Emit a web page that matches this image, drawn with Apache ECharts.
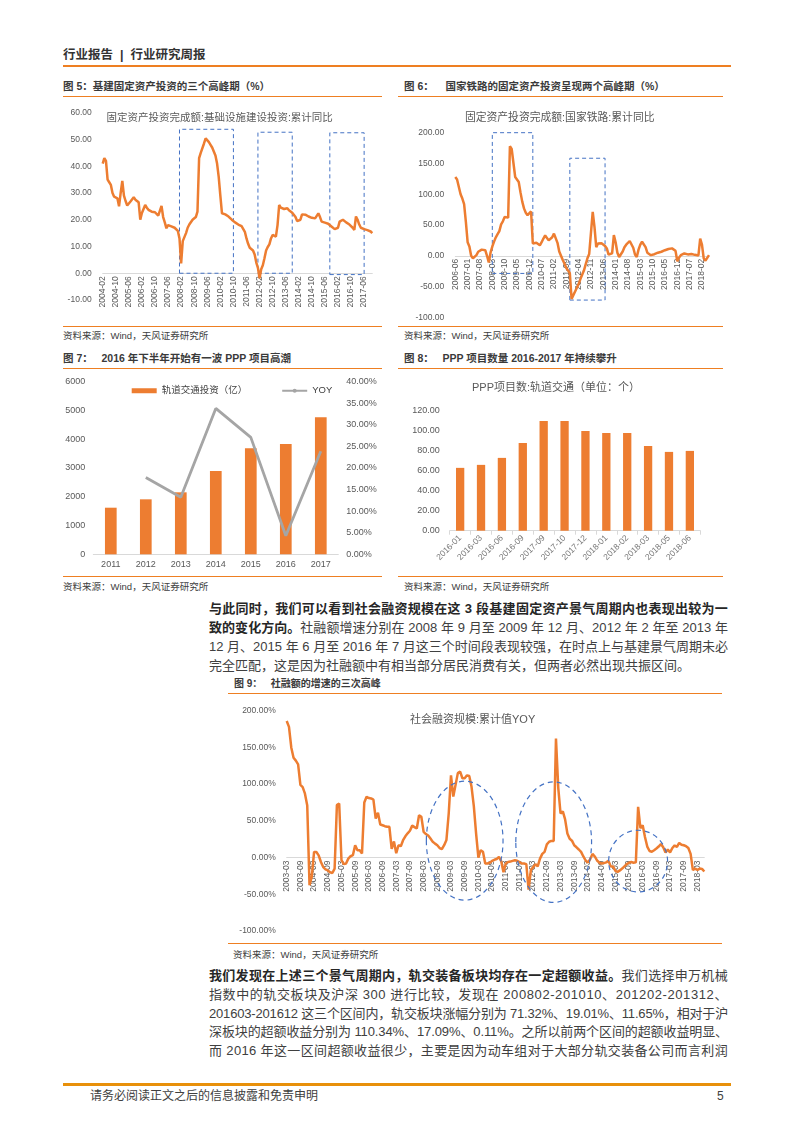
<!DOCTYPE html>
<html><head><meta charset="utf-8">
<script src="https://cdn.jsdelivr.net/npm/echarts@6/dist/echarts.min.js"></script>
<style>
body{margin:0;background:#fff;width:793px;height:1122px;position:relative;overflow:hidden;font-family:"Liberation Sans","Noto Sans CJK SC",sans-serif;}
.a{position:absolute;white-space:nowrap;}
.hd{font-weight:bold;color:#3a3a3a;font-size:10.5px;line-height:14px;}
.rule{position:absolute;height:1.4px;background:#EE7F22;}
.src{font-size:9.5px;color:#404040;line-height:12px;}
.ln{position:absolute;left:209px;width:519px;height:19px;line-height:19px;font-size:13px;color:#404040;white-space:nowrap;}
.ln b{color:#262626;}
.chart{position:absolute;}
</style></head><body>

<div class="a" style="left:63px;top:47px;font-size:12.5px;font-weight:bold;color:#333;line-height:16px;">行业报告&nbsp; | &nbsp;行业研究周报</div>
<div class="rule" style="left:63px;top:65px;width:668px;height:2px;"></div>

<div class="a hd" style="left:63px;top:79px;">图 5：基建固定资产投资的三个高峰期（%）</div>
<div class="rule" style="left:63px;top:95.5px;width:319px;"></div>
<div class="a hd" style="left:404px;top:79px;">图 6：&nbsp;&nbsp;&nbsp; 国家铁路的固定资产投资呈现两个高峰期（%）</div>
<div class="rule" style="left:398px;top:95.5px;width:325px;"></div>

<div id="c5" class="chart" style="left:60px;top:100px;width:330px;height:225px;"></div>
<div id="c6" class="chart" style="left:398px;top:100px;width:330px;height:225px;"></div>

<div class="rule" style="left:63px;top:325.5px;width:319px;"></div>
<div class="rule" style="left:398px;top:325.5px;width:325px;"></div>
<div class="a src" style="left:63px;top:330px;">资料来源：Wind，天风证券研究所</div>
<div class="a src" style="left:404px;top:330px;">资料来源：Wind，天风证券研究所</div>

<div class="a hd" style="left:63px;top:351px;">图 7：&nbsp;&nbsp; 2016 年下半年开始有一波 PPP 项目高潮</div>
<div class="rule" style="left:63px;top:367.5px;width:319px;"></div>
<div class="a hd" style="left:404px;top:351px;">图 8：&nbsp;&nbsp; PPP 项目数量 2016-2017 年持续攀升</div>
<div class="rule" style="left:398px;top:367.5px;width:325px;"></div>

<div id="c7" class="chart" style="left:60px;top:370px;width:330px;height:205px;"></div>
<div id="c8" class="chart" style="left:398px;top:370px;width:330px;height:205px;"></div>

<div class="rule" style="left:63px;top:576px;width:319px;"></div>
<div class="rule" style="left:398px;top:576px;width:325px;"></div>
<div class="a src" style="left:63px;top:581px;">资料来源：Wind，天风证券研究所</div>
<div class="a src" style="left:404px;top:581px;">资料来源：Wind，天风证券研究所</div>

<div class="ln j" style="top:599px;"><span><b>与此同时，我们可以看到社会融资规模在这 3 段基建固定资产景气周期内也表现出较为一</b></span></div>
<div class="ln j" style="top:618px;"><span><b>致的变化方向。</b>社融额增速分别在 2008 年 9 月至 2009 年 12 月、2012 年 2 年至 2013 年</span></div>
<div class="ln j" style="top:637px;"><span>12 月、2015 年 6 月至 2016 年 7 月这三个时间段表现较强，在时点上与基建景气周期未必</span></div>
<div class="ln" style="top:656px;"><span>完全匹配，这是因为社融额中有相当部分居民消费有关，但两者必然出现共振区间。</span></div>

<div class="a hd" style="left:234px;top:676.5px;font-size:10px;">图 9：&nbsp;&nbsp; 社融额的增速的三次高峰</div>
<div class="rule" style="left:228px;top:692.5px;width:494px;"></div>
<div id="c9" class="chart" style="left:228px;top:696px;width:494px;height:245px;"></div>
<div class="rule" style="left:228px;top:942.5px;width:494px;"></div>
<div class="a src" style="left:233px;top:949px;">资料来源：Wind，天风证券研究所</div>

<div class="ln j" style="top:966px;"><span><b>我们发现在上述三个景气周期内，轨交装备板块均存在一定超额收益。</b>我们选择申万机械</span></div>
<div class="ln j" style="top:985px;"><span>指数中的轨交板块及沪深 300 进行比较，发现在 200802-201010、201202-201312、</span></div>
<div class="ln j" style="top:1003.5px;"><span>201603-201612 这三个区间内，轨交板块涨幅分别为 71.32%、19.01%、11.65%，相对于沪</span></div>
<div class="ln j" style="top:1022px;"><span>深板块的超额收益分别为 110.34%、17.09%、0.11%。之所以前两个区间的超额收益明显、</span></div>
<div class="ln j" style="top:1040.5px;"><span>而 2016 年这一区间超额收益很少，主要是因为动车组对于大部分轨交装备公司而言利润</span></div>

<div class="rule" style="left:63px;top:1083px;width:668px;height:2.5px;background:#E8900A;"></div>
<div class="a" style="left:90px;top:1088px;font-size:12px;color:#404040;line-height:16px;">请务必阅读正文之后的信息披露和免责申明</div>
<div class="a" style="left:717px;top:1088px;font-size:12px;color:#404040;line-height:16px;">5</div>

<script>
// ---------- data ----------
// Fig.5 infrastructure FAI cumulative YoY (%), monthly from 2004-02
const infra5 = [
41,43,42,35,34,33,30,28.6,28.5,28,
25,30,34.5,29,27,25.3,26,26.8,27.5,28.4,
27.5,27,26.5,20,22.5,24,25.5,24.5,23.7,23.5,
23,23,22.8,22.4,21.5,21,25.2,21,19,16.8,
18,17.8,17.5,17.4,17,16.4,15.8,13,3.7,12,
13.5,15,17,18.2,18.7,20,20.5,21,23,43,
45,45.5,48.5,50.4,50,49,48,47,45.5,44,
41,36,29,22.4,22.4,22,21.8,21.2,20.6,20,
19.4,19,18.7,18.2,17.5,17.6,17.7,15.5,13,11,
9.5,9,8.5,7,4,2,-1.9,1.5,3,5.6,
8.5,9.8,10.8,13,14.3,14,13.7,18,25.5,24.5,
24.3,24,24,24.3,23.5,23,22.6,22.4,21,19.5,
19.3,20,22,22.4,21.9,21.5,21.2,21,20.7,20.5,
20.5,21,22.4,21,19.3,19,18.9,18.8,18.5,18,
17.5,17,16.5,15.8,17,19.3,19.8,20,20.2,19,
18.5,18.2,18,17,16.2,21.2,20,18.2,17,16.8,
16.5,16.2,16.1,16,15.6,15];
const boxes5 = [['2008-01',0,'2010-10',53.8],['2012-01',0,'2013-10',52.7],['2015-09',-0.5,'2017-06',52.5]];
const title5 = '固定资产投资完成额:基础设施建设投资:累计同比';

// Fig.6 national railway FAI cumulative YoY (%), monthly from 2006-06
const rail6 = [
128,124,124.5,100,93,84,55,22,15,0,
-4,-1.5,1,6.5,6.5,10,12,9,0,-11,
5,15,23,30,35,40,51,56,63,63,
62,178,173.5,172,128,125,120,103,88,77,
70,66,67,72,20,23,21,19,17,22,
28,33,34,25,22,30,36,35,21,7,
0,-7,-13,-20,-24,-28,-70,-64,-58,-52,
-46,-38,-31,-24,-14,-4,3,5.5,71.5,47,
14,20,22,20.5,19,16,12,2,1,4,
33.6,22,5,-2,-4,7,14,18,21,24,
23.5,13,2,-2,10,18,22.8,20.5,14,5,
2,1,1.5,2.5,3.5,5,5.5,6.5,8,9,
10,11,11.5,12,13.5,8,-9,-3,1,3,
3.8,3,2.2,3.5,3,2,1.5,1,0.5,28,
18,-4,-8,-7,1];
const boxes6 = [['2008-03',-28.7,'2010-02',203],['2011-11',-72,'2013-07',158.5]];
const title6 = '固定资产投资完成额:国家铁路:累计同比';

// Fig.7 rail transit investment (100m yuan) & YoY (%)
const years7 = ['2011','2012','2013','2014','2015','2016','2017'];
const invest7 = [1620,1911,2155,2896,3683,3834,4761];
const yoy7 = [null,17.8,13.2,33.8,27.1,4.3,23.9];
const legend7 = ['轨道交通投资（亿）','YOY'];

// Fig.8 PPP projects: rail transit (count)
const months8 = ['2016-01','2016-03','2016-06','2016-09','2017-09','2017-10','2017-12','2018-01','2018-02','2018-03','2018-05','2018-06'];
const ppp8 = [63,66,73,88,110,110,100,98,98,85,79,80];
const title8 = 'PPP项目数:轨道交通（单位：个）';

// Fig.9 social financing cumulative YoY (%), monthly from 2003-03
const tsf9 = [
186,178,150,136,132,127,99,96,87,71,
-37.7,-26,7.7,7.5,3,-6,-13,-16,-17.5,-20,
-21,-15,71.4,73.6,-3.6,-9,-8,-1.4,1.8,3.2,
16.8,10,10,5.5,75,82.7,81,80.5,79,53,
61,45,44,42.7,42,41.8,12,22,6,16.8,
15.5,23.6,29,33,36.5,43.5,41.5,39.5,57.7,55.5,
35,32,30,26,21.4,19,16.8,13,11.5,16.8,
24,60,112,83,99,115,117,108,108,112,
111,96.4,70,32.7,0,10,8,-8,-8,-7,
-4.5,-3,-2,1,-5,-20,-8,-6,-5.5,-4.5,
-3.6,-4.3,-6,-8,-8,-9,-43.6,-17,-13,-9,
-12,-1.4,5,7.7,18,21.5,22.7,22.7,162,95,
60,63,52,32.7,25.5,23,16.8,14,11,7.7,
1.5,-4,-7,-2,5,1.5,-4,-7,-8,-7.5,
-6.5,-4.5,-12,-12,-18,-19.5,-17.5,-15,-12,-9,
-7,-6,-7,-6.5,69,40,44,28,15,9,
8,10,12.3,15,18.5,14,7,11,7,13,
16.5,14.5,20,17.5,16.8,15.5,13,5,-17,-15,
-17,-15,-15.5,-19];
// dashed ellipses: centre month index, centre value, radius in months, radius in %
const ellipses9 = [{cx:78,cy:23,rx:16.8,ry:81},{cx:116.8,cy:21,rx:16.6,ry:82},{cx:153.9,cy:-4.8,rx:12.9,ry:42}];
const title9 = '社会融资规模:累计值YOY';

// ---------- helpers ----------
const months = (y, m, n) => Array.from({length:n}, (_, i) => { const k = m - 1 + i; return (y + Math.floor(k / 12)) + '-' + String(k % 12 + 1).padStart(2, '0'); });
const months5 = months(2004, 2, infra5.length);
const months6 = months(2006, 6, rail6.length);
const months9 = months(2003, 3, tsf9.length);

const FF = '"Liberation Sans","Noto Sans CJK SC",sans-serif';
const ORANGE = '#ED7D31', GRAY = '#A5A5A5', BLUE = '#4472C4', LBL = '#595959', AX = '#D9D9D9';
const lbl = (extra) => Object.assign({color: LBL, fontSize: 8.5, fontFamily: FF}, extra || {});
const ttl = (x, y, text, size) => ({type: 'text', x: x, y: y, silent: true,
  style: {text: text, fill: LBL, fontSize: size, fontFamily: FF, align: 'center', verticalAlign: 'middle'}});
const boxArea = (boxes) => ({silent: true,
  itemStyle: {color: 'rgba(0,0,0,0)', borderColor: BLUE, borderWidth: 1, borderType: [4, 3]},
  data: boxes.map(b => [{xAxis: b[0], yAxis: b[1]}, {xAxis: b[2], yAxis: b[3]}])});
const fix2 = v => v.toFixed(2);
const plain = v => String(v);
const grid = (l, t, w, h) => ({left: l, top: t, width: w, height: h, containLabel: false, outerBoundsMode: 'none'});
// month axis placed on the zero line of a value axis (min<0<max) by shifting it up from the grid bottom
const zeroAxis = (cats, interval, min, max, h) => ({type: 'category', data: cats, boundaryGap: false,
  axisLine: {onZero: false, lineStyle: {color: AX}}, axisTick: {show: false},
  offset: -((0 - min) / (max - min)) * h,
  axisLabel: lbl({interval: interval, rotate: 90, margin: 3})});

// ---------- Fig 5 ----------
const c5 = echarts.init(document.getElementById('c5'));
c5.setOption({
  animation: false, textStyle: {fontFamily: FF},
  graphic: [ttl(159.7, 18, title5, 10.5)],
  grid: grid(42.7, 12.7, 269.6, 187.3),
  xAxis: zeroAxis(months5, 7, -10, 60, 187.3),
  yAxis: {type: 'value', min: -10, max: 60, interval: 10, splitLine: {show: false},
    axisLine: {show: false}, axisTick: {show: false}, axisLabel: lbl({formatter: fix2, margin: 11})},
  series: [{type: 'line', data: infra5, symbol: 'none', lineStyle: {color: ORANGE, width: 2.5},
    markArea: boxArea(boxes5)}]
});

// ---------- Fig 6 ----------
const c6 = echarts.init(document.getElementById('c6'));
c6.setOption({
  animation: false, textStyle: {fontFamily: FF},
  graphic: [ttl(161.7, 18.3, title6, 10.8)],
  grid: grid(57.3, 32.7, 253.7, 184.6),
  xAxis: zeroAxis(months6, 6, -100, 200, 184.6),
  yAxis: {type: 'value', min: -100, max: 200, interval: 50, splitLine: {show: false},
    axisLine: {show: false}, axisTick: {show: false}, axisLabel: lbl({formatter: fix2, margin: 11})},
  series: [{type: 'line', data: rail6, symbol: 'none', lineStyle: {color: ORANGE, width: 2.5},
    markArea: boxArea(boxes6)}]
});

// ---------- Fig 7 ----------
const c7 = echarts.init(document.getElementById('c7'));
c7.setOption({
  animation: false, textStyle: {fontFamily: FF},
  legend: {left: 66.7, top: 11, itemWidth: 25, itemHeight: 5, itemGap: 34,
    textStyle: {fontSize: 9.5, color: '#404040', fontFamily: FF},
    data: [{name: legend7[0], icon: 'rect'}, {name: legend7[1]}]},
  grid: grid(33.3, 11.7, 245, 172.6),
  xAxis: {type: 'category', data: years7, axisLine: {lineStyle: {color: AX}}, axisTick: {show: false},
    axisLabel: lbl({fontSize: 9, margin: 6})},
  yAxis: [
    {type: 'value', min: 0, max: 6000, interval: 1000, splitLine: {show: false}, axisLine: {show: false},
      axisTick: {show: false}, axisLabel: lbl({fontSize: 9, margin: 8, formatter: plain})},
    {type: 'value', min: 0, max: 40, interval: 5, splitLine: {show: false}, axisLine: {show: false},
      axisTick: {show: false}, axisLabel: lbl({fontSize: 9, margin: 8, formatter: v => v.toFixed(2) + '%'})}
  ],
  series: [
    {name: legend7[0], type: 'bar', data: invest7, barWidth: 11.7, itemStyle: {color: ORANGE}},
    {name: legend7[1], type: 'line', yAxisIndex: 1, data: yoy7, symbol: 'none',
      lineStyle: {color: GRAY, width: 2.8}, itemStyle: {color: GRAY}}
  ]
});

// ---------- Fig 8 ----------
const c8 = echarts.init(document.getElementById('c8'));
c8.setOption({
  animation: false, textStyle: {fontFamily: FF},
  graphic: [ttl(158, 17.7, title8, 11)],
  grid: grid(51.7, 41, 250.6, 119.7),
  xAxis: {type: 'category', data: months8, axisLine: {lineStyle: {color: AX}},
    axisTick: {show: true, length: 4, lineStyle: {color: AX}},
    axisLabel: lbl({rotate: 45, margin: 6, color: '#767676', interval: 0})},
  yAxis: {type: 'value', min: 0, max: 120, interval: 20, splitLine: {show: false}, axisLine: {show: false},
    axisTick: {show: false}, axisLabel: lbl({fontSize: 9, formatter: fix2, margin: 10})},
  series: [{type: 'bar', data: ppp8, barWidth: 8.3, itemStyle: {color: ORANGE}}]
});

// ---------- Fig 9 ----------
const c9 = echarts.init(document.getElementById('c9'));
c9.setOption({
  animation: false, textStyle: {fontFamily: FF},
  grid: grid(58.7, 14.7, 417.6, 220.3),
  xAxis: zeroAxis(months9, 5, -100, 200, 220.3),
  yAxis: {type: 'value', min: -100, max: 200, interval: 50, splitLine: {show: false},
    axisLine: {show: false}, axisTick: {show: false},
    axisLabel: lbl({formatter: v => v.toFixed(2) + '%', margin: 11})},
  series: [{type: 'line', data: tsf9, symbol: 'none', lineStyle: {color: ORANGE, width: 2.5}}]
});
(function () {
  const f = {xAxisIndex: 0, yAxisIndex: 0};
  const p0 = c9.convertToPixel(f, [0, 0]);
  const p1 = c9.convertToPixel(f, [1, 100]);
  const pxM = p1[0] - p0[0], pxU = (p0[1] - p1[1]) / 100;
  const els = [ttl(244.6, 24, title9, 11)];
  ellipses9.forEach(e => {
    const c = c9.convertToPixel(f, [e.cx, e.cy]);
    els.push({type: 'ellipse', silent: true, z: 100,
      shape: {cx: c[0], cy: c[1], rx: e.rx * pxM, ry: e.ry * pxU},
      style: {fill: 'none', stroke: BLUE, lineWidth: 1.2, lineDash: [5, 4]}});
  });
  c9.setOption({graphic: els});
})();

// ---------- justify text lines ----------
function fitLines() {
  document.querySelectorAll('.ln.j').forEach(el => {
    el.style.letterSpacing = '0px';
    const s = el.firstElementChild;
    const w = s.getBoundingClientRect().width;
    const n = s.textContent.length;
    el.style.letterSpacing = ((519 - w) / n) + 'px';
  });
}
fitLines();
if (document.fonts && document.fonts.ready) document.fonts.ready.then(fitLines);
</script>
</body></html>
